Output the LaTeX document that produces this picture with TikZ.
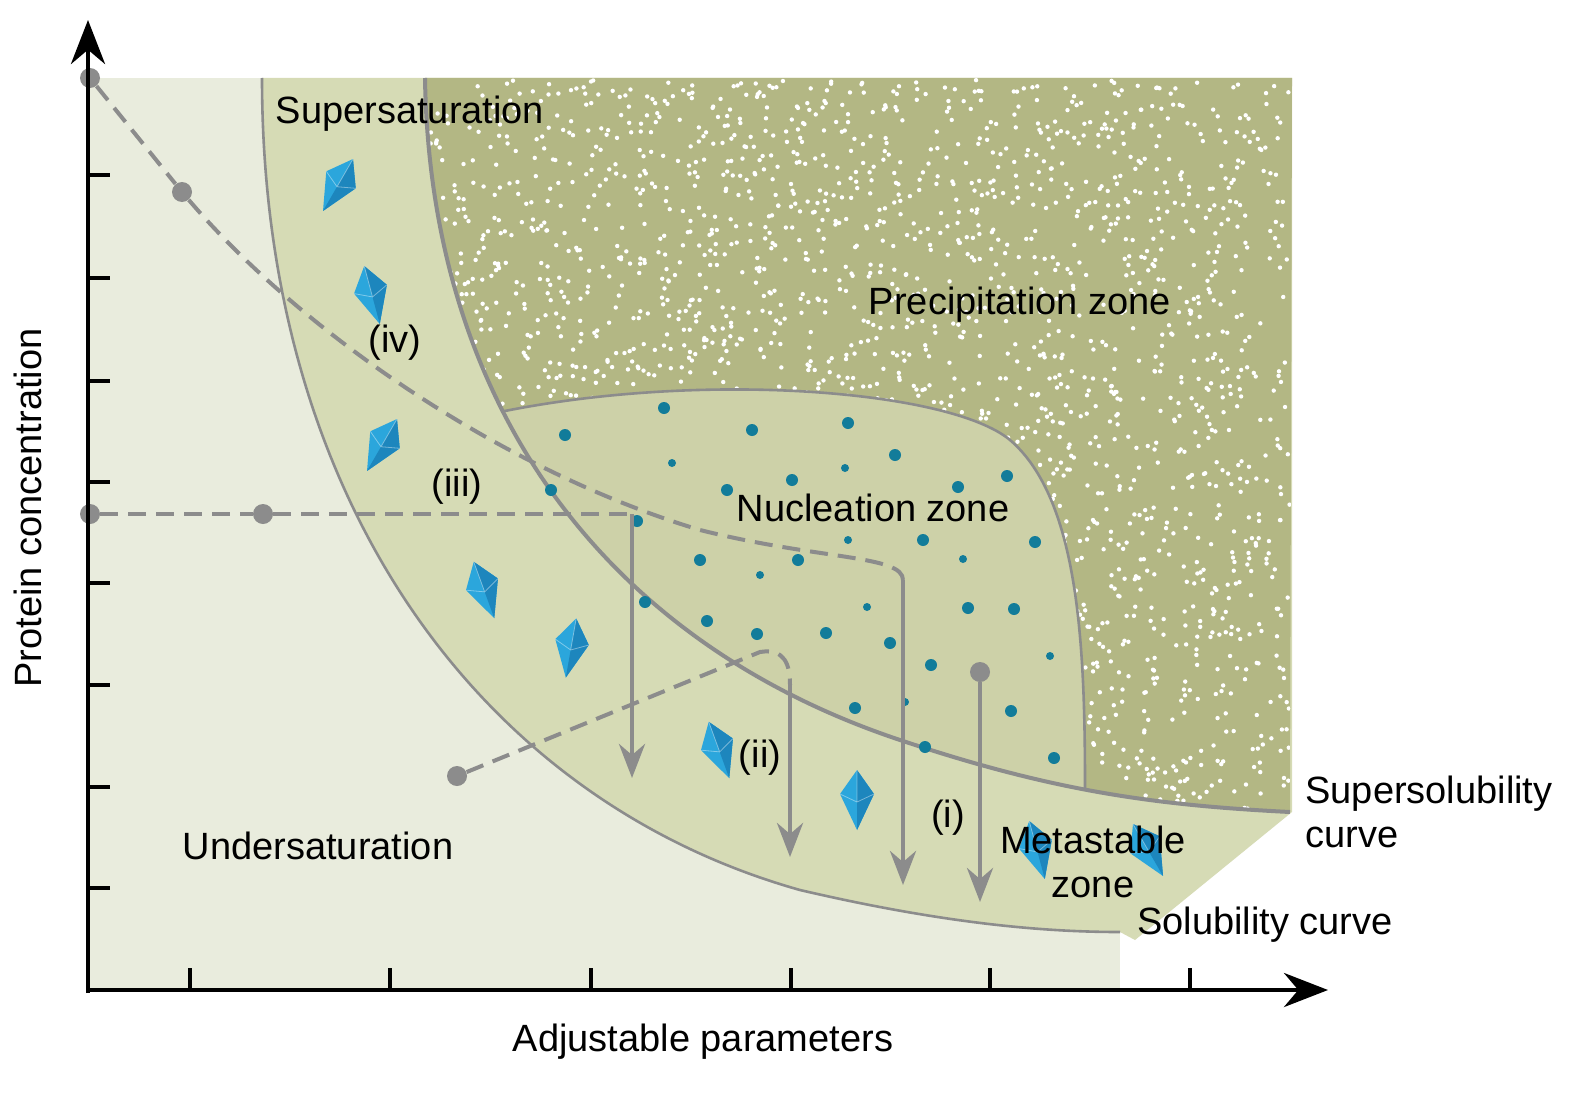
\documentclass[tikz,border=0pt]{standalone}
\usepackage{fontspec}
\setmainfont{Liberation Sans}
\usetikzlibrary{arrows.meta}
\definecolor{undersat}{HTML}{E9ECDD}
\definecolor{metazone}{HTML}{D6DBB5}
\definecolor{precip}{HTML}{B3B784}
\definecolor{nucl}{HTML}{CDD1A8}
\definecolor{curvegrey}{HTML}{8C8C8C}
\definecolor{crystal}{HTML}{2BA6DC}
\definecolor{crystaldark}{HTML}{1D86BD}
\definecolor{seed}{HTML}{127C9A}
\tikzset{label/.style={font=\fontsize{19}{22}\selectfont, inner sep=0pt}}
\tikzset{boundary/.style={draw=curvegrey, line width=1.3pt}}
\tikzset{path line/.style={curvegrey, line width=2pt, dash pattern=on 9pt off 5pt}}
\tikzset{drop/.style={curvegrey, line width=2.3pt, -{Stealth[length=17pt,width=13pt]}}}
\tikzset{startdot/.style={circle, fill=curvegrey, inner sep=0pt, minimum size=10pt}}
\newcommand{\supercurve}{(425,78) .. controls (430,400) and (600,640) .. (900,740) .. controls (1050,790) and (1150,805) .. (1290,812)}
\newcommand{\crystalat}[3]{%
  \begin{scope}[shift={(#1,#2)}, rotate=#3]
    \fill[crystal] (0,-30) -- (-17,-6) -- (0,30) -- (17,-6) -- cycle;
    \fill[crystaldark] (0,-30) -- (0,30) -- (17,-6) -- cycle;
    \draw[white, opacity=0.4, line width=0.4pt] (-17,-6) -- (0,2) -- (17,-6) (0,-30) -- (0,2);
  \end{scope}}
\begin{document}
\begin{tikzpicture}[x=0.5pt, y=-0.5pt]
\useasboundingbox (0,0) rectangle (1588,1097);
% zones
\fill[undersat] (88,78) rectangle (1120,990);
\fill[metazone] (262,78) .. controls (262,500) and (480,800) .. (800,890) .. controls (950,925) and (1050,932) .. (1120,932)
  -- (1135,940) -- (1292,812) -- (1292,78) -- cycle;
\fill[precip] \supercurve -- (1292,78) -- cycle;
\begin{scope}
  \clip \supercurve -- (1292,78) -- cycle;
  \pgfmathsetseed{7}
  \foreach \i in {1,...,3000} {
    \pgfmathsetmacro{\px}{430+860*rnd}
    \pgfmathsetmacro{\py}{80+730*rnd}
    \fill[white] (\px,\py) circle (1.1pt);
  }
  \fill[nucl] (495,413) .. controls (700,370) and (950,390) .. (1010,440) .. controls (1080,500) and (1085,650) .. (1085,790) -- (1085,1000) -- (495,1000) -- cycle;
  \draw[boundary] (495,413) .. controls (700,370) and (950,390) .. (1010,440) .. controls (1080,500) and (1085,650) .. (1085,790);
\end{scope}
% curves
\draw[boundary] (262,78) .. controls (262,500) and (480,800) .. (800,890) .. controls (950,925) and (1050,932) .. (1120,932);
\draw[boundary, line width=2pt] \supercurve;
% nuclei
\foreach \x/\y/\r in {664/408/6, 565/435/6, 752/430/6, 848/423/6, 672/463/4, 895/455/6, 845/468/4,
  551/490/6, 727/490/6, 792/480/6, 958/487/6, 1007/476/6, 637/521/6, 923/540/6, 1035/542/6,
  848/540/4, 700/560/6, 798/560/6, 760/575/4, 963/559/4, 645/602/6, 867/607/4, 968/608/6,
  1014/609/6, 707/621/6, 757/634/6, 826/633/6, 890/643/6, 931/665/6, 1050/656/4, 855/708/6,
  905/702/4, 1011/711/6, 925/747/6, 1054/758/6}
  \fill[seed] (\x,\y) circle (\r);
% crystals
\crystalat{338}{185}{-30}
\crystalat{372}{295}{15}
\crystalat{382}{445}{-30}
\crystalat{484}{590}{20}
\crystalat{571}{648}{-10}
\crystalat{719}{750}{20}
\crystalat{857}{800}{0}
\crystalat{1037}{850}{15}
\crystalat{1148}{850}{30}
% crystallisation paths
\node[startdot] (iv0) at (90,78) {};
\node[startdot] (iv1) at (182,192) {};
\coordinate (ivbend) at (903,580);
\coordinate (ivend) at (903,885);
\draw[path line] (iv0) -- (iv1) .. controls (300,330) and (500,470) .. (700,530) .. controls (820,560) and (903,555) .. (ivbend);
\draw[drop] (ivbend) -- (ivend);
\node[startdot] (iii0) at (90,514) {};
\node[startdot] (iii1) at (263,514) {};
\coordinate (iiibend) at (632,514);
\coordinate (iiiend) at (632,778);
\draw[path line] (iii0) -- (iii1) -- (iiibend);
\draw[drop] (iiibend) -- (iiiend);
\node[startdot] (ii0) at (457,776) {};
\coordinate (iibend) at (790,685);
\coordinate (iiend) at (790,857);
\draw[path line] (ii0) -- (760,652) .. controls (785,648) and (790,665) .. (iibend);
\draw[drop] (iibend) -- (iiend);
\node[startdot] (i0) at (980,672) {};
\coordinate (iend) at (980,902);
\draw[drop] (i0) -- (iend);
% axes
\coordinate (origin) at (88,990);
\coordinate (ytop) at (88,20);
\coordinate (xend) at (1328,990);
\draw[line width=2.4pt, -{Stealth[length=22pt,width=17pt]}] (88,993) -- (ytop);
\draw[line width=2.4pt, -{Stealth[length=22pt,width=17pt]}] (86,990) -- (xend);
\foreach \y in {175,278,381,482,583,685,787,888}
  \draw[line width=1.8pt] (88,\y) -- (110,\y);
\foreach \x in {190,390,591,791,990,1190}
  \draw[line width=1.8pt] (\x,990) -- (\x,968);
% labels
\node[label] (supersat) at (410,114) {Supersaturation};
\node[label] (precipzone) at (1020,305) {Precipitation zone};
\node[label] (nuclzone) at (873,508) {Nucleation zone};
\node[label] (undersatlbl) at (318,846) {Undersaturation};
\node[label, align=center] (metalbl) at (1093,862) {Metastable\\zone};
\node[label, align=left, anchor=west] (supersol) at (1305,812) {Supersolubility\\curve};
\node[label] (sollbl) at (1265,925) {Solubility curve};
\node[label] (xlbl) at (703,1042) {Adjustable parameters};
\node[label, rotate=90] (ylbl) at (28,508) {Protein concentration};
\node[label] (lbliv) at (395,343) {(iv)};
\node[label] (lbliii) at (457,487) {(iii)};
\node[label] (lblii) at (760,758) {(ii)};
\node[label] (lbli) at (948,818) {(i)};
\end{tikzpicture}
\end{document}
